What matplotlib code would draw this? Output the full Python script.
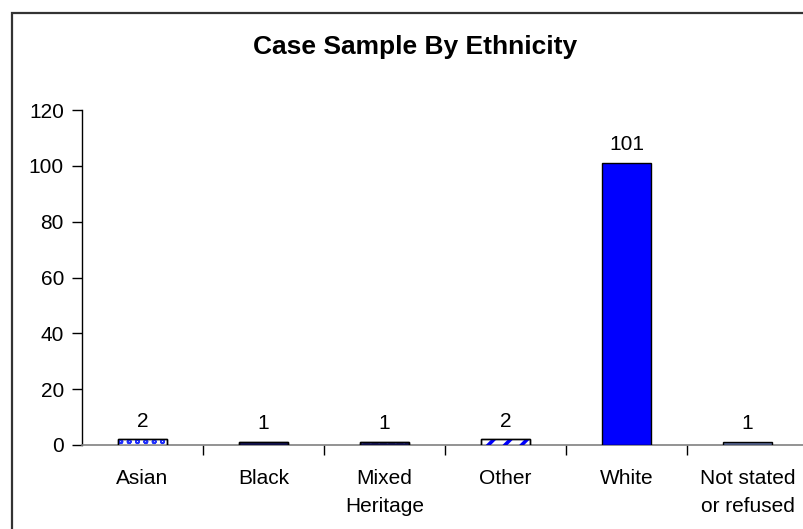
import matplotlib.pyplot as plt
import numpy as np
from matplotlib.patches import Rectangle

plt.rcParams["font.family"] = ["Liberation Sans", "DejaVu Sans"]
plt.rcParams["hatch.linewidth"] = 1.2

categories = ["Asian", "Black", "Mixed\nHeritage", "Other", "White", "Not stated\nor refused"]
counts = [2, 1, 1, 2, 101, 1]
y_ticks = [0, 20, 40, 60, 80, 100, 120]

faces = ["white", "#1a1a6e", "#1a1a6e", "white", "#0000ff", "#5a6a9a"]
hatch_colors = ["#2030ff", "#6070c0", "#5060b0", "#0000ff", "#0000ff", "#5a6a9a"]
hatches = ["oo", "--", "..", "//", None, None]
hatch_widths = [1.2, 1.2, 1.2, 2.6, 1.0, 1.0]

fig = plt.figure(figsize=(8.04, 5.29), dpi=100)
fig.patches.append(
    Rectangle((12 / 804, -0.01), 1.0, 1 - 13 / 529 + 0.01, transform=fig.transFigure,
              fill=False, edgecolor="#333333", linewidth=1.6)
)
ax = fig.add_axes([82 / 804, 1 - 445 / 529, (808 - 82) / 804, (445 - 110) / 529])

x = np.arange(len(categories))
for xi, val, fc, hc, h, hw in zip(x, counts, faces, hatch_colors, hatches, hatch_widths):
    ax.bar(xi, val, width=0.41, facecolor=fc, edgecolor="black", linewidth=1.0, zorder=3)
    if h:
        overlay = ax.bar(xi, val, width=0.41, facecolor="none", edgecolor=hc, hatch=h,
                         linewidth=0, zorder=3)
        for patch in overlay:
            if hasattr(patch, "set_hatch_linewidth"):
                patch.set_hatch_linewidth(hw)
        ax.bar(xi, val, width=0.41, facecolor="none", edgecolor="black", linewidth=1.0, zorder=4)
    ax.text(xi, val + 4.6, str(val), ha="center", va="baseline", fontsize=15)

ax.set_xlim(-0.5, len(categories) - 0.5)
ax.set_ylim(0, 120)
ax.set_yticks(y_ticks)
ax.tick_params(axis="y", labelsize=15, length=7, width=1, direction="out", pad=6)
ax.set_xticks(x[:-1] + 0.5)
ax.set_xticklabels([])
ax.tick_params(axis="x", length=7, width=1, direction="out", color="black")
for xi, label in zip(x, categories):
    ax.text(xi, -8.6, label, ha="center", va="top", fontsize=15, linespacing=1.62)

for side in ["top", "right"]:
    ax.spines[side].set_visible(False)
ax.spines["bottom"].set_color("#808080")
ax.spines["bottom"].set_linewidth(1.2)
ax.spines["left"].set_color("black")
ax.spines["left"].set_linewidth(1.0)

fig.text(415 / 804, 1 - 54 / 529, "Case Sample By Ethnicity",
         ha="center", va="baseline", fontsize=19, fontweight="bold")

fig.savefig("out.png", dpi=100)
